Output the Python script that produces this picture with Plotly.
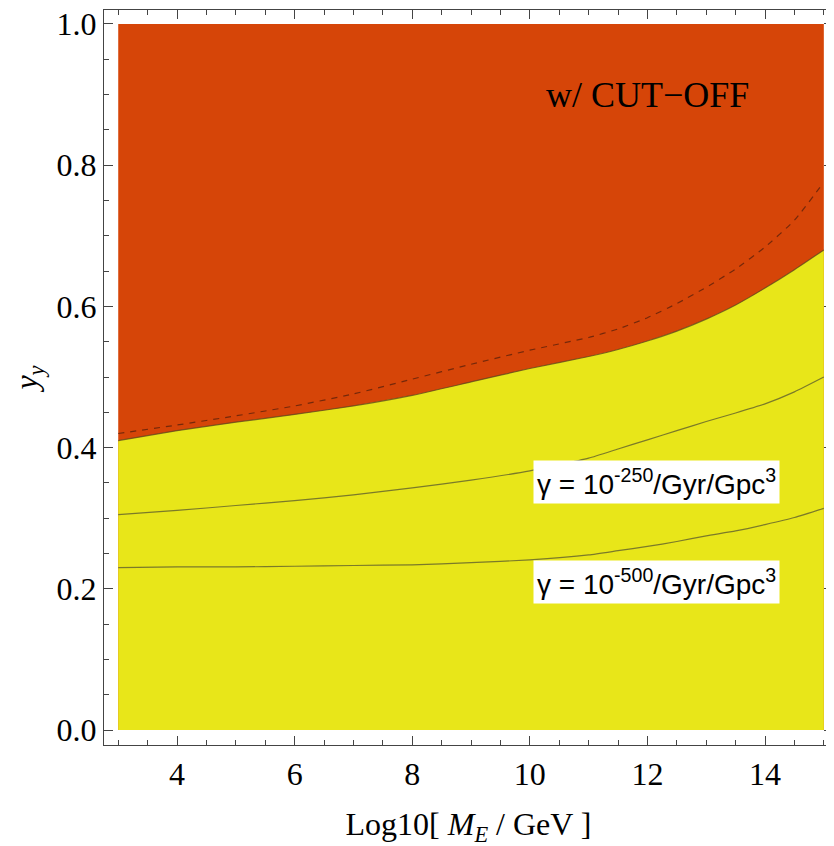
import plotly.graph_objects as go

# ---- data ----
x_pts = [3, 4, 5, 6, 7, 8, 9, 10, 11, 11.5, 12, 12.5, 13, 13.5, 14, 14.5, 15]
boundary = [0.410, 0.424, 0.436, 0.447, 0.459, 0.474, 0.493, 0.512, 0.529, 0.539, 0.551, 0.565, 0.582, 0.602, 0.626, 0.652, 0.680]
cutoff_dashed = [0.420, 0.432, 0.445, 0.459, 0.476, 0.497, 0.518, 0.538, 0.556, 0.568, 0.584, 0.604, 0.627, 0.653, 0.684, 0.722, 0.776]
gamma_250 = [0.305, 0.311, 0.318, 0.325, 0.333, 0.343, 0.354, 0.367, 0.385, 0.398, 0.411, 0.424, 0.437, 0.449, 0.462, 0.479, 0.500]
gamma_500 = [0.230, 0.231, 0.231, 0.232, 0.233, 0.234, 0.237, 0.241, 0.248, 0.254, 0.260, 0.267, 0.275, 0.282, 0.291, 0.301, 0.314]

x_ticks = [4, 6, 8, 10, 12, 14]
y_ticks = [0.0, 0.2, 0.4, 0.6, 0.8, 1.0]
y_ticklabels = ["0.0", "0.2", "0.4", "0.6", "0.8", "1.0"]

label_250 = "γ = 10<sup>-250</sup>/Gyr/Gpc<sup>3</sup>"
label_500 = "γ = 10<sup>-500</sup>/Gyr/Gpc<sup>3</sup>"
label_cut = "w/ CUT−OFF"

ORANGE = "#D64508"
YELLOW = "#E8E619"

fig = go.Figure()

# orange region (whole data rectangle, yellow drawn over it)
fig.add_trace(go.Scatter(
    x=[x_pts[0], x_pts[0], x_pts[-1], x_pts[-1]],
    y=[0.0, 1.0, 1.0, 0.0],
    fill="toself", fillcolor=ORANGE, mode="none", hoverinfo="skip", showlegend=False))
# yellow region (below boundary)
fig.add_trace(go.Scatter(
    x=x_pts, y=boundary, fill="tozeroy", fillcolor=YELLOW,
    mode="lines", line=dict(color="rgba(90,70,30,0.75)", width=1.2, shape="spline", smoothing=0.5),
    hoverinfo="skip", showlegend=False))
# dashed cut-off line
fig.add_trace(go.Scatter(
    x=x_pts, y=cutoff_dashed, mode="lines",
    line=dict(color="rgba(100,35,10,0.85)", width=1.2, dash="6px,6px", shape="spline", smoothing=0.5),
    hoverinfo="skip", showlegend=False))
# gamma contours
for ys in (gamma_250, gamma_500):
    fig.add_trace(go.Scatter(
        x=x_pts, y=ys, mode="lines",
        line=dict(color="rgba(95,95,45,0.8)", width=1.2, shape="spline", smoothing=0.5),
        hoverinfo="skip", showlegend=False))

sans = dict(family="Liberation Sans, Arial, sans-serif", size=28, color="black")
fig.add_annotation(x=12.16, y=0.351, xref="x", yref="y", text=label_250,
                   showarrow=False, font=sans, bgcolor="white", borderpad=3)
fig.add_annotation(x=12.16, y=0.210, xref="x", yref="y", text=label_500,
                   showarrow=False, font=sans, bgcolor="white", borderpad=3)
fig.add_annotation(x=12.0, y=0.90, xref="x", yref="y", text=label_cut,
                   showarrow=False,
                   font=dict(family="Liberation Serif, Times New Roman, serif", size=36, color="black"))

serif = dict(family="Liberation Serif, Times New Roman, serif", size=32, color="black")
axis_common = dict(
    showgrid=False, zeroline=False, showline=True, linecolor="#444", linewidth=1.2,
    mirror="ticks", ticks="inside", ticklen=9, tickwidth=1.2, tickcolor="#444",
    tickfont=serif, automargin=False, ticklabeloverflow="allow",
)
fig.update_xaxes(range=[2.758, 15.156], tickvals=x_ticks, ticktext=[str(v) for v in x_ticks],
                 minor=dict(dtick=0.5, tick0=3, ticks="inside", ticklen=5, tickcolor="#444", tickwidth=1),
                 title=dict(text="Log10[ <i>M</i><sub><i>E</i></sub> / GeV ]", font=serif, standoff=22),
                 **axis_common)
fig.update_yaxes(range=[-0.0212, 1.0198], tickvals=y_ticks, ticktext=y_ticklabels,
                 minor=dict(dtick=0.05, tick0=0, ticks="inside", ticklen=5, tickcolor="#444", tickwidth=1),
                 title=dict(text="<i>y</i><sub><i>y</i></sub>", font=serif, standoff=14),
                 **axis_common)

# page body adds an 8px offset; margins compensate so the frame lands where the reference has it
fig.update_layout(
    width=834, height=846,
    margin=dict(l=96, r=9, t=2, b=109),
    plot_bgcolor="white", paper_bgcolor="white",
    showlegend=False,
)

fig.write_html("out.html")
